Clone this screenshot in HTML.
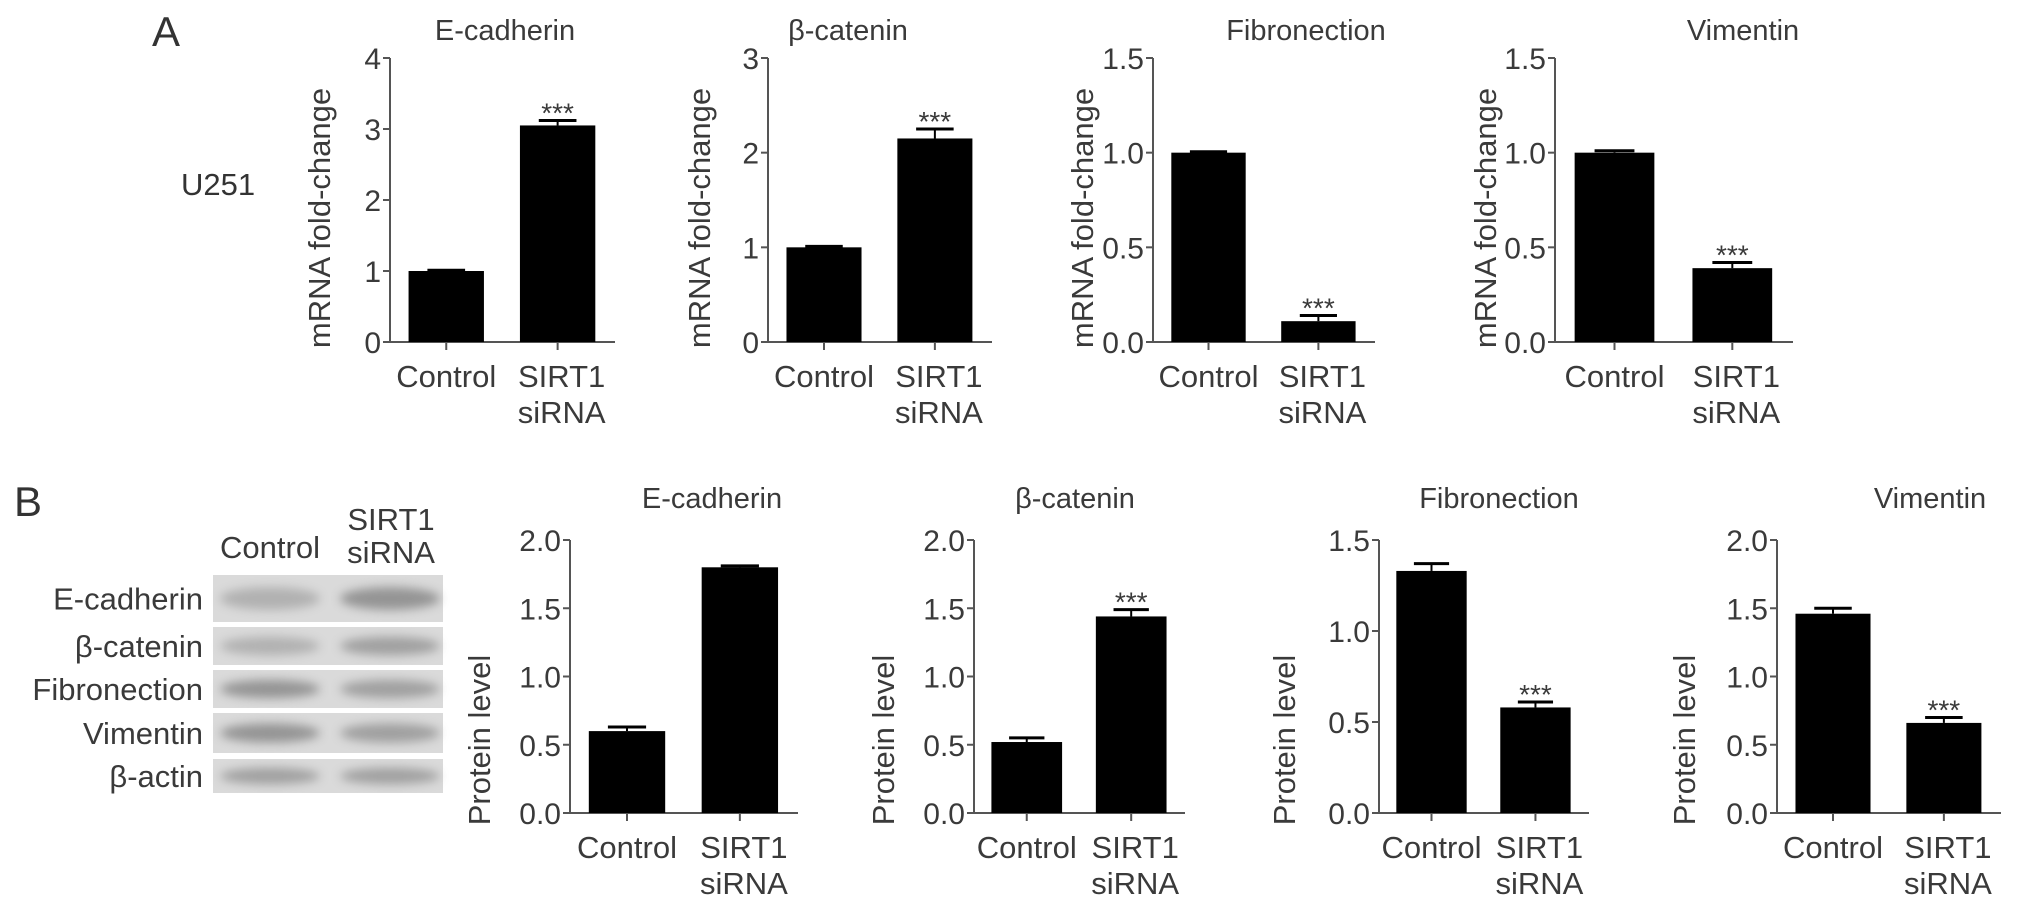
<!DOCTYPE html>
<html><head><meta charset="utf-8"><style>
html,body{margin:0;padding:0;background:#fff;}
svg{display:block;font-family:"Liberation Sans",sans-serif;}
</style></head><body>
<svg id="fig" width="2031" height="908" viewBox="0 0 2031 908" xmlns="http://www.w3.org/2000/svg">
<defs><filter id="blur" x="-20%" y="-50%" width="140%" height="200%"><feGaussianBlur stdDeviation="5"/></filter></defs>
<text x="152" y="46" font-size="42" fill="#333">A</text>
<text x="181" y="195" font-size="31" fill="#333">U251</text>
<text x="14" y="516" font-size="42" fill="#333">B</text>
<g id="blot"></g>
<g id="charts"></g>
</svg>
<script>
const categories = ["Control", "SIRT1 siRNA"];
const aTitles = ["E-cadherin", "β-catenin", "Fibronection", "Vimentin"];
const aControl = [1.0, 1.0, 1.0, 1.0];
const aSirna = [3.05, 2.15, 0.11, 0.39];
const aControlErr = [0.01, 0.01, 0.005, 0.01];
const aSirnaErr = [0.07, 0.10, 0.03, 0.03];
const aMax = [4, 3, 1.5, 1.5];
const aTickStep = [1, 1, 0.5, 0.5];
const aDecimals = [0, 0, 1, 1];
const aStars = ["***", "***", "***", "***"];
const bTitles = ["E-cadherin", "β-catenin", "Fibronection", "Vimentin"];
const bControl = [0.60, 0.52, 1.33, 1.46];
const bSirna = [1.80, 1.44, 0.58, 0.66];
const bControlErr = [0.03, 0.03, 0.04, 0.04];
const bSirnaErr = [0.01, 0.05, 0.03, 0.04];
const bMax = [2, 2, 1.5, 2];
const bTickStep = [0.5, 0.5, 0.5, 0.5];
const bStars = ["", "***", "***", "***"];
const blotRows = ["E-cadherin", "β-catenin", "Fibronection", "Vimentin", "β-actin"];
const blotControlIntensity = [0.35, 0.35, 0.6, 0.6, 0.5];
const blotSirnaIntensity = [0.6, 0.5, 0.5, 0.5, 0.5];

const NS = "http://www.w3.org/2000/svg";
function mk(tag, attrs, parent, text) {
  const e = document.createElementNS(NS, tag);
  for (const k in attrs) e.setAttribute(k, attrs[k]);
  if (text !== undefined) e.textContent = text;
  parent.appendChild(e);
  return e;
}
const charts = document.getElementById("charts");
const TXT = "#3a3a3a", AX = "#555";

function drawChart(o) {
  const g = mk("g", {}, charts);
  
  
  const w = o.x1 - o.x0;
  const y = v => o.y0 - (v / o.max) * (o.y0 - o.yTop);
  const t = mk("text", {x: o.titleX, y: o.titleY, "font-size": 29, fill: TXT, "text-anchor": "middle"}, g, o.title);
  
  
  mk("line", {x1: o.x0, y1: o.yTop, x2: o.x0, y2: o.y0, stroke: AX, "stroke-width": 2}, g);
  mk("line", {x1: o.x0 - 2, y1: o.y0, x2: o.x1, y2: o.y0, stroke: AX, "stroke-width": 2}, g);
  const n = Math.round(o.max / o.step);
  for (let i = 0; i <= n; i++) {
    const v = i * o.step, yy = y(v);
    mk("line", {x1: o.x0 - 7, y1: yy, x2: o.x0, y2: yy, stroke: AX, "stroke-width": 2}, g);
    const tl = mk("text", {x: o.x0 - 9, y: yy + 11, "font-size": 30, fill: TXT, "text-anchor": "end"}, g, v.toFixed(o.dec));
    
    
  }
  const yt = mk("text", {x: 0, y: 0, "font-size": 31, fill: TXT, "text-anchor": "middle", transform: `translate(${o.ytX},${o.ytY}) rotate(-90)`}, g, o.ytitle);
  
  
  const vals = [o.c, o.s], errs = [o.ce, o.se], fr = [0.25, 0.745];
  const bw = w * 0.335;
  vals.forEach((v, i) => {
    const cx = o.x0 + w * fr[i];
    const r = mk("rect", {x: cx - bw / 2, y: y(v), width: bw, height: o.y0 - y(v), fill: "#000"}, g);
    
    
    const ye = y(v + errs[i]);
    mk("line", {x1: cx, y1: ye, x2: cx, y2: y(v), stroke: "#000", "stroke-width": 2}, g);
    mk("line", {x1: cx - bw * 0.25, y1: ye, x2: cx + bw * 0.25, y2: ye, stroke: "#000", "stroke-width": 3}, g);
    mk("line", {x1: cx, y1: o.y0, x2: cx, y2: o.y0 + 8, stroke: AX, "stroke-width": 2}, g);
    if (i === 1 && o.star) {
      const st = mk("text", {x: cx, y: ye + 2, "font-size": 28, fill: TXT, "text-anchor": "middle"}, g, o.star);
      
      
    }
    if (i === 0) {
      const xl = mk("text", {x: cx, y: o.y0 + 45, "font-size": 31, fill: TXT, "text-anchor": "middle"}, g, categories[0]);
      
      
    } else {
      const parts = categories[1].split(" ");
      const xl = mk("text", {x: cx + 4, y: o.y0 + 45, "font-size": 31, fill: TXT, "text-anchor": "middle"}, g, parts[0]);
      
      
      const xl2 = mk("text", {x: cx + 4, y: o.y0 + 81, "font-size": 31, fill: TXT, "text-anchor": "middle"}, g, parts[1]);
      
      
    }
  });
}

const aLayout = [[390, 615, 505, 322], [768, 992, 848, 702], [1153, 1375, 1306, 1085], [1555, 1793, 1743, 1488]];
aLayout.forEach((L, i) => drawChart({name: "mrna-chart-" + (i + 1), x0: L[0], x1: L[1], titleX: L[2], titleY: 40, ytX: L[3] + 8, ytY: 218,
  y0: 342, yTop: 58, max: aMax[i], step: aTickStep[i], dec: aDecimals[i], title: aTitles[i], ytitle: "mRNA fold-change",
  c: aControl[i], s: aSirna[i], ce: aControlErr[i], se: aSirnaErr[i], star: aStars[i]}));
const bLayout = [[570, 798, 712, 482], [974, 1185, 1075, 886], [1379, 1589, 1499, 1287], [1777, 2001, 1930, 1687]];
bLayout.forEach((L, i) => drawChart({name: "protein-chart-" + (i + 1), x0: L[0], x1: L[1], titleX: L[2], titleY: 508, ytX: L[3] + 8, ytY: 740,
  y0: 813, yTop: 540, max: bMax[i], step: bTickStep[i], dec: 1, title: bTitles[i], ytitle: "Protein level",
  c: bControl[i], s: bSirna[i], ce: bControlErr[i], se: bSirnaErr[i], star: bStars[i]}));

// western blot
const blot = document.getElementById("blot");
const rowY = [[575, 622], [627, 665], [670, 708], [713, 753], [759, 793]];
const h1 = mk("text", {x: 270, y: 578 - 20, "font-size": 31, fill: TXT, "text-anchor": "middle"}, blot, categories[0]);


const p = categories[1].split(" ");
const h2 = mk("text", {x: 391, y: 530, "font-size": 31, fill: TXT, "text-anchor": "middle"}, blot, p[0]);


mk("text", {x: 391, y: 563, "font-size": 31, fill: TXT, "text-anchor": "middle"}, blot, p[1]);
blotRows.forEach((name, i) => {
  const [ya, yb] = rowY[i];
  const r = mk("rect", {x: 213, y: ya, width: 230, height: yb - ya, fill: "#dadada"}, blot);
  
  
  const cy = (ya + yb) / 2;
  [[270, blotControlIntensity[i]], [390, blotSirnaIntensity[i]]].forEach(([cx, a]) => {
    mk("ellipse", {cx: cx, cy: cy, rx: 50, ry: (yb - ya) * 0.24, fill: "#666", opacity: a, filter: "url(#blur)"}, blot);
  });
  const l = mk("text", {x: 203, y: cy + 11, "font-size": 31, fill: TXT, "text-anchor": "end"}, blot, name);
  
  
});
</script>
</body></html>
